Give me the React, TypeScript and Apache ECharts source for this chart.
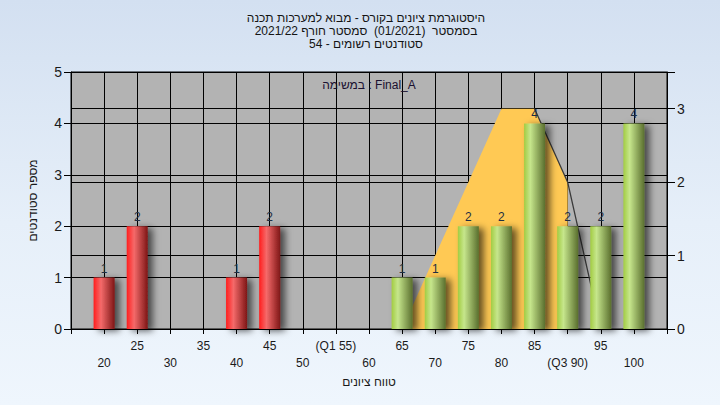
import React, { useEffect, useRef } from 'react';
import * as echarts from 'echarts';

const titleLines = [
  'היסטוגרמת ציונים בקורס - מבוא למערכות תכנה',
  'בסמסטר  (01/2021)  סמסטר חורף 2021/22',
  'סטודנטים רשומים - 54',
];
const taskLabel = 'במשימה : Final_A';
const xAxisName = 'טווח ציונים';
const yAxisName = 'מספר סטודנטים';

const grades = [20, 25, 40, 45, 65, 70, 75, 80, 85, 90, 95, 100];
const counts = [1, 2, 1, 2, 1, 1, 2, 2, 4, 2, 2, 4];
const failBelow = 55;
const quartileLabels: Record<number, string> = { 55: '(Q1 55)', 90: '(Q3 90)' };

const areaGrades = [65, 70, 75, 80, 85, 90, 90];
const areaValues = [0, 1, 2, 3, 3, 2, 0];
const curveGrades = [85, 90, 95];
const curveValues = [3, 2, 0];

const FONT = '"Liberation Sans", "DejaVu Sans", Arial, sans-serif';

const redGrad = {
  type: 'linear', x: 0, y: 0, x2: 1, y2: 0,
  colorStops: [
    { offset: 0, color: '#ff1e1e' },
    { offset: 0.35, color: '#f56a6a' },
    { offset: 1, color: '#7e1616' },
  ],
};
const greenGrad = {
  type: 'linear', x: 0, y: 0, x2: 1, y2: 0,
  colorStops: [
    { offset: 0, color: '#a2cc42' },
    { offset: 0.3, color: '#c6e68c' },
    { offset: 1, color: '#5a6f2e' },
  ],
};

export default function App() {
  const ref = useRef<HTMLDivElement>(null);
  useEffect(() => {
    document.body.style.margin = '0';
    const chart = echarts.init(ref.current!, undefined, { renderer: 'svg' });
    const option: any = {
      animation: false,
      graphic: [
        {
          type: 'text', x: 366, y: 11,
          style: {
            text: titleLines.join('\n'), textAlign: 'center', align: 'center',
            textVerticalAlign: 'top', verticalAlign: 'top',
            fontSize: 12, fontFamily: FONT, lineHeight: 13, fill: '#141414',
          },
        },
        {
          type: 'text', x: 369, y: 79, z: 100,
          style: {
            text: taskLabel, textAlign: 'center', align: 'center',
            textVerticalAlign: 'top', verticalAlign: 'top',
            fontSize: 12, fontFamily: FONT, fill: '#1a1030',
          },
        },
      ],
      grid: {
        left: 71, right: 53, top: 72, bottom: 76,
        show: true, backgroundColor: '#b3b3b3', borderColor: '#000', borderWidth: 1,
      },
      xAxis: {
        type: 'value', min: 15, max: 105, interval: 5,
        name: xAxisName, nameLocation: 'middle', nameGap: 45,
        nameTextStyle: { fontSize: 12, fontFamily: FONT, color: '#1a1a1a' },
        axisLine: { show: true, lineStyle: { color: '#000', width: 1 } },
        axisTick: { show: true, length: 5, lineStyle: { color: '#000' } },
        splitLine: { show: true, lineStyle: { color: '#000', width: 1 } },
        axisLabel: {
          margin: 8, fontSize: 12, fontFamily: FONT, color: '#1a1a1a', lineHeight: 17,
          formatter: (v: number) => {
            if (v < 20 || v > 100) return '';
            const t = quartileLabels[v] ?? String(v);
            return v % 10 === 0 ? '\n' + t : t;
          },
        },
      },
      yAxis: [
        {
          type: 'value', min: 0, max: 5, interval: 1, position: 'left',
          name: yAxisName, nameLocation: 'middle', nameGap: 32,
          nameTextStyle: { fontSize: 12, fontFamily: FONT, color: '#1a1a1a' },
          axisLine: { show: true, lineStyle: { color: '#000', width: 1 } },
          axisTick: { show: true, length: 7, lineStyle: { color: '#000' } },
          splitLine: { show: true, lineStyle: { color: '#000', width: 1 } },
          axisLabel: { margin: 9, fontSize: 14, fontFamily: FONT, color: '#1a1a1a' },
        },
        {
          type: 'value', min: 0, max: 3.5, interval: 1, position: 'right',
          axisLine: { show: true, lineStyle: { color: '#000', width: 1 } },
          axisTick: { show: true, length: 8, lineStyle: { color: '#000' } },
          splitLine: { show: true, lineStyle: { color: '#000', width: 1 } },
          axisLabel: {
            margin: 10, fontSize: 14, fontFamily: FONT, color: '#1a1a1a',
            formatter: (v: number) => (Number.isInteger(v) ? String(v) : ''),
          },
        },
      ],
      series: [
        {
          type: 'line', yAxisIndex: 1, z: 1, symbol: 'none', silent: true,
          data: areaGrades.map((g, i) => [g, areaValues[i]]),
          lineStyle: { width: 0 },
          areaStyle: { color: '#ffc954', opacity: 1 },
        },
        {
          type: 'line', yAxisIndex: 1, z: 2, symbol: 'none', silent: true,
          data: curveGrades.map((g, i) => [g, curveValues[i]]),
          lineStyle: { color: '#3a3a3a', width: 1.3 },
        },
        {
          type: 'bar', yAxisIndex: 0, z: 3, barWidth: 21,
          data: grades.map((g, i) => ({
            value: [g, counts[i]],
            itemStyle: { color: g < failBelow ? redGrad : greenGrad },
          })),
          itemStyle: {
            shadowColor: 'rgba(0,0,0,0.6)', shadowBlur: 7, shadowOffsetX: 5, shadowOffsetY: 2,
          },
          label: {
            show: true, position: 'top', distance: 3,
            fontSize: 12, fontFamily: FONT, color: '#1e2e42',
          },
        },
      ],
    };
    chart.setOption(option);
    return () => chart.dispose();
  }, []);
  return (
    <div
      ref={ref}
      style={{
        width: 720, height: 405,
        background: 'linear-gradient(180deg, #d3e0f1 0%, #e6eff9 55%, #eff6fd 100%)',
      }}
    />
  );
}
